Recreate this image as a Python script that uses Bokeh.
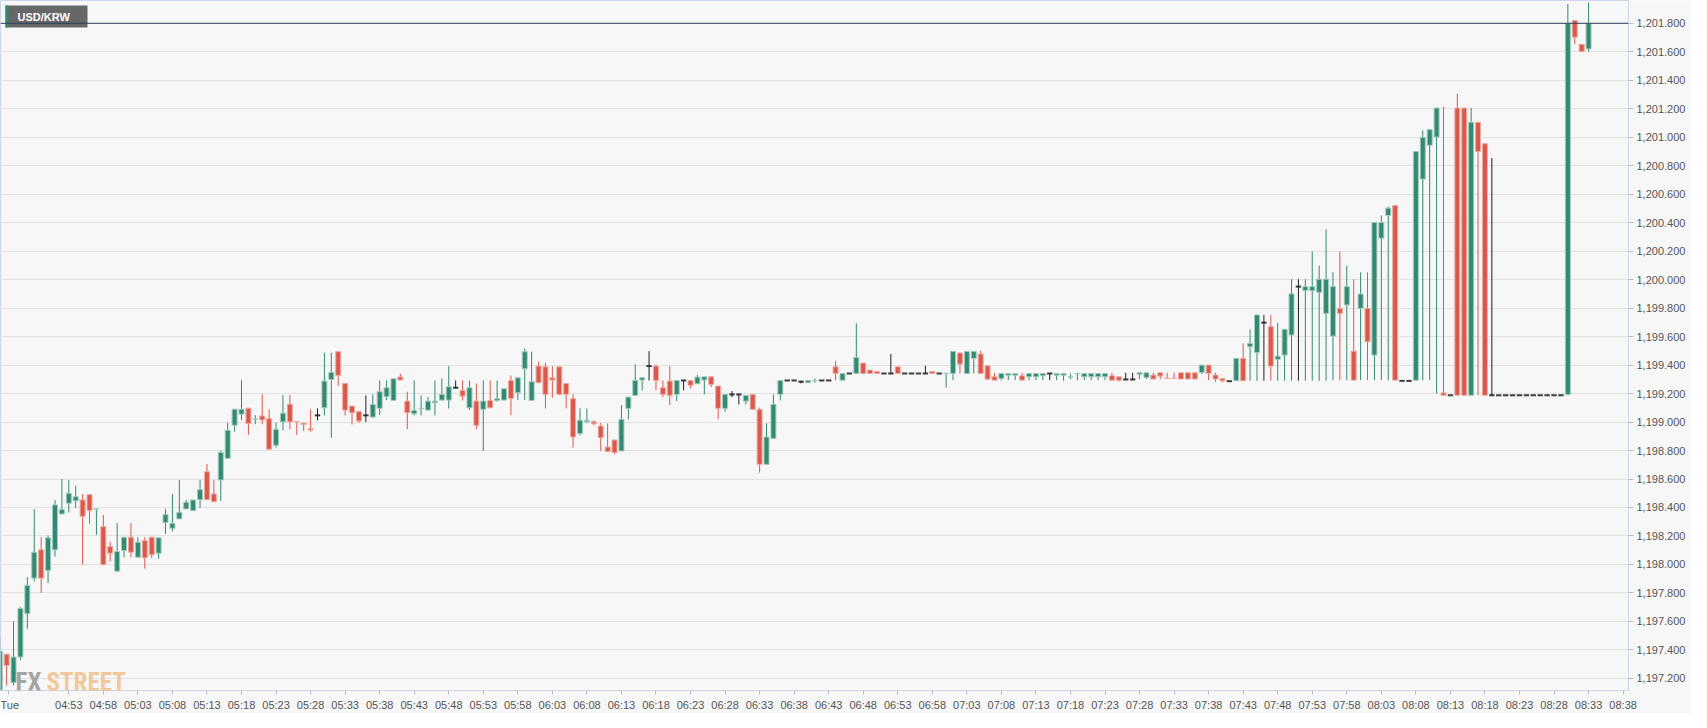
import numpy as np
from bokeh.plotting import figure
from bokeh.models import Range1d, FixedTicker, NumeralTickFormatter, Span, Label, BoxAnnotation
from bokeh.embed import file_html
from bokeh.resources import INLINE

symbol = "USD/KRW"
session_label = "Tue"

opens = [1197.09, 1197.37, 1197.17, 1197.35, 1197.654, 1197.904, 1198.103, 1197.958, 1198.103, 1198.355,
         1198.43, 1198.448, 1198.453, 1198.49, 1198.387, 1198.266, 1198.126, 1197.953, 1198.098, 1198.191,
         1198.051, 1198.168, 1198.191, 1198.079, 1198.294, 1198.254, 1198.32, 1198.39, 1198.378, 1198.455,
         1198.651, 1198.495, 1198.593, 1198.745, 1198.978, 1199.055, 1199.097, 1199.018, 1199.043, 1199.024,
         1198.837, 1199.001, 1199.125, 1199.002, 1198.993, 1198.953, 1199.047, 1199.10, 1199.299, 1199.494,
         1199.271, 1199.112, 1199.073, 1199.047, 1199.035, 1199.096, 1199.178, 1199.152, 1199.316, 1199.147,
         1199.058, 1199.094, 1199.084, 1199.136, 1199.154, 1199.154, 1199.241, 1199.222, 1199.10, 1199.147,
         1199.089, 1199.152, 1199.152, 1199.154, 1199.292, 1199.206, 1199.374, 1199.152, 1199.393, 1199.388,
         1199.311, 1199.388, 1199.271, 1199.164, 1198.92, 1199.002, 1199.002, 1198.972, 1198.825, 1198.874,
         1198.797, 1199.096, 1199.187, 1199.295, 1199.393, 1199.393, 1199.241, 1199.288, 1199.194, 1199.292,
         1199.292, 1199.269, 1199.295, 1199.318, 1199.253, 1199.096, 1199.194, 1199.194, 1199.147, 1199.194,
         1199.089, 1198.703, 1198.885, 1199.194, 1199.292, 1199.292, 1199.283, 1199.276, 1199.29, 1199.292,
         1199.292, 1199.388, 1199.294, 1199.341, 1199.341, 1199.414, 1199.365, 1199.355, 1199.341, 1199.341,
         1199.388, 1199.341, 1199.341, 1199.341, 1199.341, 1199.355, 1199.341, 1199.341, 1199.341, 1199.485,
         1199.341, 1199.447, 1199.478, 1199.395, 1199.318, 1199.306, 1199.329, 1199.329, 1199.325, 1199.318,
         1199.318, 1199.325, 1199.341, 1199.329, 1199.329, 1199.316, 1199.339, 1199.318, 1199.318, 1199.318,
         1199.318, 1199.325, 1199.318, 1199.299, 1199.299, 1199.334, 1199.313, 1199.33, 1199.346, 1199.308,
         1199.308, 1199.346, 1199.346, 1199.346, 1199.348, 1199.40, 1199.33, 1199.306, 1199.287, 1199.29,
         1199.447, 1199.529, 1199.489, 1199.698, 1199.67, 1199.44, 1199.47, 1199.611, 1199.951, 1199.923,
         1199.923, 1199.911, 1199.763, 1199.604, 1199.798, 1199.822, 1199.498, 1199.798, 1199.798, 1199.47,
         1200.291, 1200.45, 1200.52, 1199.289, 1199.289, 1199.294, 1200.706, 1200.943, 1201.001, 1199.205,
         1199.188, 1201.205, 1201.205, 1199.188, 1201.105, 1200.954, 1199.188, 1199.188, 1199.188, 1199.188,
         1199.188, 1199.188, 1199.188, 1199.188, 1199.188, 1199.188, 1199.188, 1199.193, 1201.819, 1201.652,
         1201.62]

highs = [1197.49, 1197.37, 1197.60, 1197.70, 1197.911, 1198.39, 1198.191, 1198.203, 1198.453, 1198.60,
         1198.593, 1198.553, 1198.495, 1198.49, 1198.39, 1198.348, 1198.161, 1198.292, 1198.191, 1198.292,
         1198.191, 1198.191, 1198.191, 1198.187, 1198.39, 1198.495, 1198.593, 1198.453, 1198.453, 1198.593,
         1198.705, 1198.593, 1198.80, 1198.996, 1199.09, 1199.294, 1199.097, 1199.048, 1199.196, 1199.09,
         1198.996, 1199.189, 1199.189, 1199.002, 1198.993, 1199.089, 1199.096, 1199.487, 1199.487, 1199.494,
         1199.271, 1199.112, 1199.073, 1199.187, 1199.194, 1199.292, 1199.292, 1199.304, 1199.339, 1199.213,
         1199.292, 1199.187, 1199.175, 1199.292, 1199.306, 1199.393, 1199.292, 1199.292, 1199.292, 1199.271,
         1199.292, 1199.292, 1199.292, 1199.234, 1199.327, 1199.311, 1199.517, 1199.494, 1199.423, 1199.416,
         1199.393, 1199.388, 1199.271, 1199.194, 1199.096, 1199.096, 1199.012, 1198.995, 1198.991, 1198.874,
         1199.119, 1199.175, 1199.405, 1199.311, 1199.498, 1199.405, 1199.292, 1199.393, 1199.292, 1199.292,
         1199.292, 1199.33, 1199.318, 1199.318, 1199.253, 1199.194, 1199.218, 1199.194, 1199.187, 1199.194,
         1199.101, 1198.991, 1199.194, 1199.292, 1199.292, 1199.292, 1199.292, 1199.292, 1199.306, 1199.292,
         1199.292, 1199.431, 1199.341, 1199.341, 1199.694, 1199.414, 1199.365, 1199.355, 1199.341, 1199.478,
         1199.388, 1199.341, 1199.341, 1199.341, 1199.395, 1199.355, 1199.341, 1199.343, 1199.496, 1199.485,
         1199.496, 1199.496, 1199.501, 1199.395, 1199.346, 1199.341, 1199.341, 1199.341, 1199.346, 1199.341,
         1199.341, 1199.341, 1199.341, 1199.341, 1199.341, 1199.341, 1199.341, 1199.341, 1199.341, 1199.341,
         1199.341, 1199.346, 1199.318, 1199.346, 1199.346, 1199.346, 1199.346, 1199.346, 1199.346, 1199.346,
         1199.346, 1199.346, 1199.346, 1199.346, 1199.40, 1199.40, 1199.346, 1199.306, 1199.287, 1199.447,
         1199.552, 1199.651, 1199.752, 1199.752, 1199.752, 1199.698, 1199.651, 1200.003, 1200.003, 1200.003,
         1200.197, 1200.099, 1200.354, 1200.052, 1200.197, 1200.098, 1200.002, 1200.051, 1200.051, 1200.401,
         1200.45, 1200.513, 1200.52, 1199.289, 1199.289, 1200.90, 1201.048, 1201.053, 1201.205, 1201.212,
         1199.188, 1201.306, 1201.205, 1201.205, 1201.105, 1200.954, 1200.854, 1199.188, 1199.188, 1199.188,
         1199.188, 1199.188, 1199.188, 1199.188, 1199.188, 1199.188, 1199.188, 1201.936, 1201.819, 1201.652,
         1201.945]

lows = [1197.04, 1197.15, 1197.15, 1197.33, 1197.549, 1197.88, 1197.80, 1197.869, 1198.056, 1198.35,
        1198.366, 1198.397, 1197.998, 1198.285, 1198.208, 1197.998, 1198.021, 1197.953, 1198.051, 1198.051,
        1198.047, 1197.97, 1198.047, 1198.04, 1198.215, 1198.231, 1198.32, 1198.39, 1198.378, 1198.397,
        1198.455, 1198.441, 1198.445, 1198.745, 1198.933, 1199.013, 1198.91, 1198.985, 1198.985, 1198.809,
        1198.82, 1198.942, 1198.949, 1198.91, 1198.937, 1198.932, 1199.012, 1199.047, 1198.89, 1199.253,
        1199.047, 1198.984, 1198.995, 1199.0, 1199.035, 1199.049, 1199.154, 1199.152, 1199.295, 1198.949,
        1199.047, 1199.047, 1199.084, 1199.047, 1199.154, 1199.096, 1199.236, 1199.152, 1199.084, 1198.949,
        1198.797, 1199.10, 1199.143, 1199.154, 1199.049, 1199.154, 1199.154, 1199.152, 1199.276, 1199.096,
        1199.171, 1199.194, 1199.096, 1198.82, 1198.906, 1198.991, 1198.977, 1198.797, 1198.792, 1198.773,
        1198.797, 1199.019, 1199.187, 1199.222, 1199.292, 1199.222, 1199.175, 1199.119, 1199.147, 1199.222,
        1199.236, 1199.269, 1199.194, 1199.246, 1199.019, 1199.073, 1199.175, 1199.124, 1199.124, 1199.089,
        1198.644, 1198.703, 1198.885, 1199.152, 1199.292, 1199.292, 1199.271, 1199.276, 1199.276, 1199.292,
        1199.292, 1199.292, 1199.294, 1199.341, 1199.341, 1199.341, 1199.341, 1199.341, 1199.341, 1199.341,
        1199.341, 1199.341, 1199.341, 1199.341, 1199.341, 1199.341, 1199.341, 1199.242, 1199.294, 1199.341,
        1199.341, 1199.341, 1199.341, 1199.294, 1199.294, 1199.294, 1199.294, 1199.294, 1199.294, 1199.294,
        1199.294, 1199.294, 1199.294, 1199.294, 1199.29, 1199.301, 1199.294, 1199.294, 1199.294, 1199.294,
        1199.294, 1199.294, 1199.285, 1199.299, 1199.299, 1199.302, 1199.302, 1199.302, 1199.302, 1199.306,
        1199.306, 1199.302, 1199.302, 1199.302, 1199.337, 1199.294, 1199.283, 1199.278, 1199.287, 1199.29,
        1199.29, 1199.29, 1199.29, 1199.29, 1199.29, 1199.29, 1199.29, 1199.29, 1199.29, 1199.29,
        1199.29, 1199.29, 1199.29, 1199.294, 1199.294, 1199.294, 1199.294, 1199.294, 1199.294, 1199.294,
        1199.294, 1199.294, 1199.294, 1199.289, 1199.289, 1199.294, 1199.294, 1199.294, 1199.20, 1199.188,
        1199.188, 1199.188, 1199.188, 1199.188, 1199.188, 1199.188, 1199.188, 1199.188, 1199.188, 1199.188,
        1199.188, 1199.188, 1199.188, 1199.188, 1199.188, 1199.188, 1199.188, 1199.193, 1201.652, 1201.601,
        1201.601]

closes = [1197.39, 1197.29, 1197.35, 1197.69, 1197.853, 1198.086, 1197.904, 1198.187, 1198.418, 1198.385,
          1198.50, 1198.476, 1198.338, 1198.378, 1198.39, 1197.998, 1198.079, 1198.091, 1198.191, 1198.086,
          1198.156, 1198.047, 1198.068, 1198.187, 1198.35, 1198.289, 1198.366, 1198.437, 1198.453, 1198.525,
          1198.455, 1198.441, 1198.787, 1198.942, 1199.09, 1199.09, 1198.989, 1199.02, 1199.015, 1198.809,
          1198.949, 1199.062, 1199.001, 1199.0, 1198.984, 1198.944, 1199.047, 1199.288, 1199.349, 1199.327,
          1199.084, 1199.065, 1199.007, 1199.047, 1199.124, 1199.213, 1199.241, 1199.304, 1199.295, 1199.065,
          1199.082, 1199.096, 1199.147, 1199.147, 1199.194, 1199.248, 1199.241, 1199.182, 1199.241, 1198.977,
          1199.147, 1199.10, 1199.164, 1199.234, 1199.166, 1199.311, 1199.494, 1199.283, 1199.276, 1199.194,
          1199.295, 1199.194, 1199.194, 1198.895, 1199.012, 1199.012, 1198.988, 1198.89, 1198.792, 1198.785,
          1199.019, 1199.175, 1199.292, 1199.311, 1199.393, 1199.292, 1199.194, 1199.187, 1199.292, 1199.292,
          1199.257, 1199.316, 1199.318, 1199.264, 1199.096, 1199.194, 1199.194, 1199.194, 1199.187, 1199.089,
          1198.703, 1198.895, 1199.124, 1199.292, 1199.292, 1199.292, 1199.283, 1199.292, 1199.292, 1199.292,
          1199.292, 1199.341, 1199.341, 1199.341, 1199.454, 1199.341, 1199.341, 1199.341, 1199.341, 1199.341,
          1199.341, 1199.341, 1199.341, 1199.341, 1199.341, 1199.341, 1199.341, 1199.343, 1199.496, 1199.407,
          1199.496, 1199.496, 1199.341, 1199.301, 1199.294, 1199.341, 1199.341, 1199.341, 1199.294, 1199.341,
          1199.341, 1199.341, 1199.341, 1199.341, 1199.341, 1199.318, 1199.341, 1199.341, 1199.341, 1199.341,
          1199.341, 1199.294, 1199.294, 1199.299, 1199.299, 1199.346, 1199.346, 1199.302, 1199.323, 1199.306,
          1199.306, 1199.302, 1199.302, 1199.302, 1199.40, 1199.341, 1199.302, 1199.29, 1199.287, 1199.447,
          1199.29, 1199.552, 1199.752, 1199.698, 1199.393, 1199.463, 1199.651, 1199.90, 1199.951, 1199.951,
          1199.951, 1200.003, 1200.003, 1199.951, 1199.763, 1199.951, 1199.294, 1199.899, 1199.564, 1200.401,
          1200.401, 1200.502, 1199.294, 1199.289, 1199.289, 1200.90, 1200.999, 1201.053, 1201.205, 1199.188,
          1199.188, 1199.188, 1199.188, 1201.105, 1200.90, 1199.188, 1199.188, 1199.188, 1199.188, 1199.188,
          1199.188, 1199.188, 1199.188, 1199.188, 1199.188, 1199.188, 1199.188, 1201.80, 1201.702, 1201.601,
          1201.80]

# minutes after the first candle (04:43) for the time-axis ticks
session_tick = 1.3
tick_minutes = list(range(10, 240, 5))
tick_labels = ["04:53", "04:58", "05:03", "05:08", "05:13", "05:18", "05:23", "05:28", "05:33", "05:38",
               "05:43", "05:48", "05:53", "05:58", "06:03", "06:08", "06:13", "06:18", "06:23", "06:28",
               "06:33", "06:38", "06:43", "06:48", "06:53", "06:58", "07:03", "07:08", "07:13", "07:18",
               "07:23", "07:28", "07:33", "07:38", "07:43", "07:48", "07:53", "07:58", "08:03", "08:08",
               "08:13", "08:18", "08:23", "08:28", "08:33", "08:38"]
price_ticks = [1197.2, 1197.4, 1197.6, 1197.8, 1198.0, 1198.2, 1198.4, 1198.6, 1198.8, 1199.0,
               1199.2, 1199.4, 1199.6, 1199.8, 1200.0, 1200.2, 1200.4, 1200.6, 1200.8, 1201.0,
               1201.2, 1201.4, 1201.6, 1201.8]

GREEN, GREEN_EDGE = "#338971", "#9fcbbe"
RED, RED_EDGE = "#d9594a", "#eeaaa1"
DOJI = "#1e1e1e"
FONT = "Liberation Sans"

o = np.array(opens); h = np.array(highs); l = np.array(lows); c = np.array(closes)
t = np.arange(len(o))
inc = c > o
dec = c < o
flat = c == o
last_price = closes[-1]

FW, FH = 1628, 690
p = figure(frame_width=FW, frame_height=FH, output_backend="svg", toolbar_location=None,
           x_range=Range1d(0.113, 235.78), y_range=Range1d(1197.115, 1201.96),
           y_axis_location="right", min_border_left=0, min_border_top=0,
           min_border_right=63, min_border_bottom=22)
p.background_fill_color = "#f7f7f7"
p.border_fill_color = "#f7f7f7"
p.outline_line_color = "#cfd6ea"
p.xgrid.grid_line_color = None
p.ygrid.grid_line_color = "#e2e2e2"
p.ygrid.ticker = FixedTicker(ticks=price_ticks)

# wicks
wick_col = np.where(inc, GREEN, np.where(dec, RED, DOJI))
rng = h > l
p.segment(x0=t[rng], y0=l[rng], x1=t[rng], y1=h[rng], line_color=list(wick_col[rng]), line_width=1)
# bodies
W = 0.72
p.vbar(x=t[inc], width=W, bottom=o[inc], top=c[inc], fill_color=GREEN, line_color=GREEN_EDGE, line_width=1)
p.vbar(x=t[dec], width=W, bottom=c[dec], top=o[dec], fill_color=RED, line_color=RED_EDGE, line_width=1)
# doji / unchanged candles
p.rect(x=t[flat], y=c[flat], width=0.78, height=2, height_units="screen",
       fill_color=DOJI, line_color=None, fill_alpha=0.85)

# axes
xa = p.xaxis[0]
xa.ticker = FixedTicker(ticks=[session_tick] + tick_minutes)
xa.major_label_overrides = {session_tick: session_label} | {m: s for m, s in zip(tick_minutes, tick_labels)}
ya = p.yaxis[0]
ya.ticker = FixedTicker(ticks=price_ticks)
ya.formatter = NumeralTickFormatter(format="0,0.000")
for ax in (xa, ya):
    ax.axis_line_color = "#cfd6ea"
    ax.major_tick_line_color = "#b9bdc9"
    ax.minor_tick_line_color = None
    ax.major_tick_in = 0
    ax.major_label_text_font = FONT
    ax.major_label_text_font_size = "11px"
    ax.major_label_text_color = "#555555"
xa.major_tick_out = 4
xa.major_label_standoff = 4
ya.major_tick_out = 5
ya.major_label_standoff = 3

# symbol tag (top-left)
p.add_layout(BoxAnnotation(left=5, right=87, top=FH - 5, bottom=FH - 27, left_units="screen", right_units="screen",
                           top_units="screen", bottom_units="screen", fill_color="#5f5f5f", fill_alpha=0.95,
                           line_color=None))
p.add_layout(BoxAnnotation(left=5, right=8, top=FH - 5, bottom=FH - 27, left_units="screen", right_units="screen",
                           top_units="screen", bottom_units="screen", fill_color="#2e8b73", fill_alpha=1,
                           line_color=None))
p.add_layout(Label(x=17, y=FH - 16, x_units="screen", y_units="screen", text=symbol,
                   text_color="white", text_font=FONT, text_font_style="bold", text_font_size="11px",
                   text_align="left", text_baseline="middle"))

# last price line
p.add_layout(Span(location=last_price, dimension="width", line_color="#2c3f5f", line_width=1))

# watermark
WM_FONT = "Liberation Sans Narrow, Roboto Condensed, Liberation Sans"
p.add_layout(Label(x=15, y=8, x_units="screen", y_units="screen", text="FX", text_color="#8e8e8e",
                   text_alpha=0.8, text_font=WM_FONT, text_font_style="bold",
                   text_font_size="25px", text_align="left", text_baseline="alphabetic"))
p.add_layout(Label(x=46, y=8, x_units="screen", y_units="screen", text="STREET", text_color="#f2c28c",
                   text_alpha=0.9, text_font=WM_FONT, text_font_style="bold",
                   text_font_size="25px", text_align="left", text_baseline="alphabetic"))

open("out.html", "w").write(file_html(p, INLINE))
